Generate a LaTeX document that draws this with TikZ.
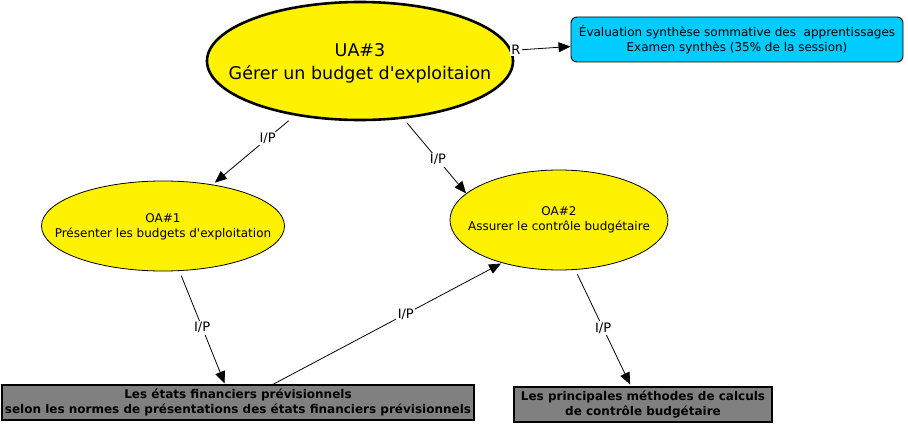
\documentclass[tikz,border=0pt]{standalone}
\usepackage{fontspec}
\setmainfont{DejaVu Sans}
\usetikzlibrary{shapes.geometric,arrows.meta,calc}
\definecolor{evalblue}{RGB}{0,204,255}
\definecolor{boxgray}{RGB}{128,128,128}
\newcommand{\apos}{\textquotesingle}
\begin{document}
\begin{tikzpicture}[x=1pt,y=-1pt,
  oval/.style={ellipse,draw=black,fill=yellow,inner sep=0pt},
  ovaltext/.style={align=center,inner sep=0pt,font=\fontsize{12}{14.5}\selectfont},
  bigtext/.style={align=center,inner sep=0pt,font=\fontsize{17.5}{23}\selectfont},
  evalbox/.style={draw=black,fill=evalblue,rounded corners=6pt,line width=0.9pt,inner sep=0pt,align=center,font=\fontsize{12}{15}\selectfont},
  graybox/.style={draw=black,fill=boxgray,line width=1.3pt,inner sep=0pt,align=center,font=\bfseries\fontsize{12}{15}\selectfont},
  link/.style={draw=black,line width=0.8pt,-{Triangle[length=12pt,width=10pt]}},
  lbl/.style={fill=white,inner sep=1.5pt,font=\fontsize{13}{15}\selectfont}]
\path[use as bounding box] (0,0) rectangle (908,425);

\node[oval,line width=2.6pt,minimum width=306pt,minimum height=118pt,
  label={[bigtext,yshift=-2pt]center:UA\#3\\Gérer un budget d\apos exploitaion}] (ua) at (360,61) {};
\node[evalbox,minimum width=332pt,minimum height=45pt] (ev) at (737,39.5) {Évaluation synthèse sommative des\ \ apprentissages\\Examen synthès (35\% de la session)};
\node[oval,line width=0.8pt,minimum width=243pt,minimum height=90pt,
  label={[ovaltext,yshift=-1pt]center:OA\#1\\Présenter les budgets d\apos exploitation}] (oa1) at (163,226) {};
\node[oval,line width=0.8pt,minimum width=218pt,minimum height=100pt,
  label={[ovaltext]center:OA\#2\\Assurer le contrôle budgétaire}] (oa2) at (559,220) {};
\node[graybox,minimum width=472pt,minimum height=35pt] (b1) at (238,402.5) {Les états financiers prévisionnels\\selon les normes de présentations des états financiers prévisionnels};
\node[graybox,minimum width=258pt,minimum height=35pt] (b2) at (643,404.5) {Les principales méthodes de calculs\\de contrôle budgétaire};

\draw[link,shorten <=1pt] (ua.4) -- node[lbl,pos=0.07,inner sep=1pt]{R} ($(ev.west)+(0,7)$);
\draw[link,shorten <=8pt,shorten >=3pt] (ua) -- node[lbl,pos=0.33]{I/P} (oa1);
\draw[link,shorten <=5pt] (ua.-53) -- node[lbl,pos=0.55]{I/P} (oa2.164);
\draw[link,shorten <=5pt,shorten >=1pt] (oa1.-70) -- node[lbl,pos=0.5]{I/P} ($(b1.north)+(-13,0)$);
\draw[link,shorten >=1pt] ($(b1.north)+(35,0)$) -- node[lbl,pos=0.58]{I/P} (oa2.-143);
\draw[link,shorten <=5pt,shorten >=2pt] (oa2.-72) -- node[lbl,pos=0.5]{I/P} ($(b2.north)+(-12,0)$);
\end{tikzpicture}
\end{document}
